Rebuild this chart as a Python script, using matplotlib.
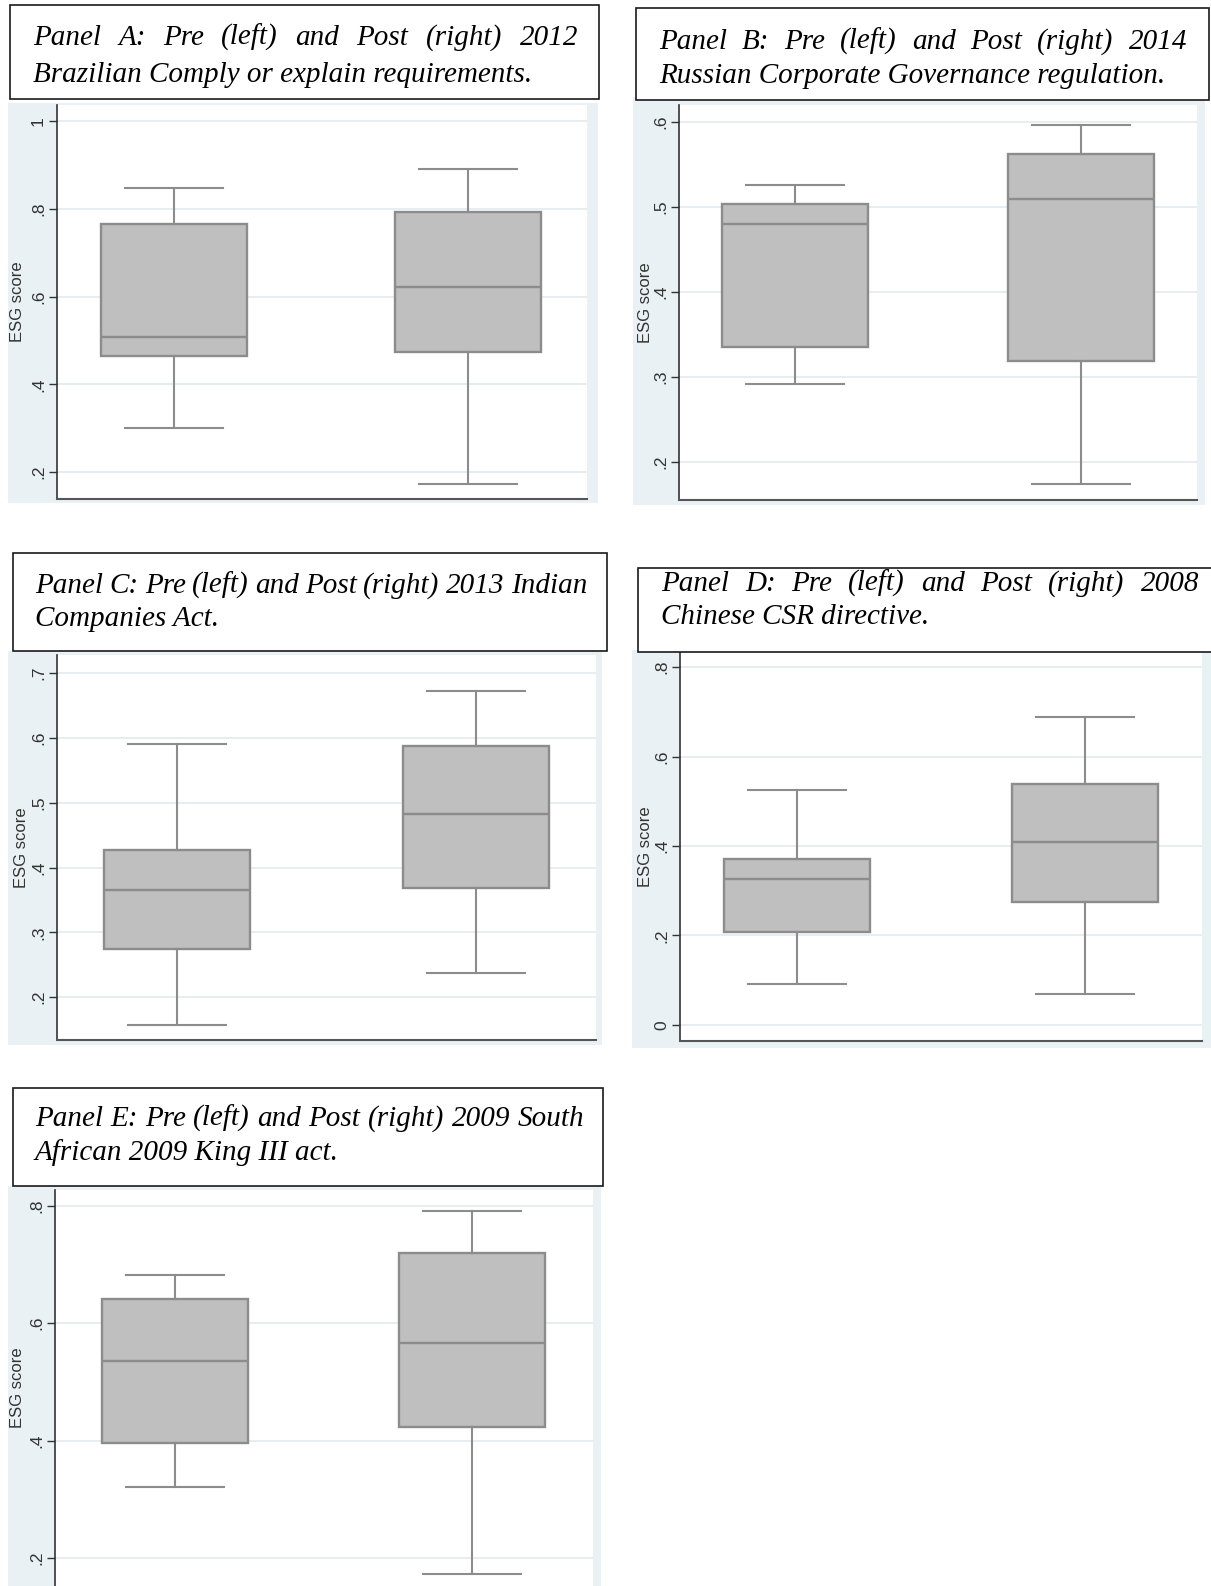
import numpy as np
import matplotlib
matplotlib.use("Agg")
from matplotlib import pyplot as plt
from matplotlib.patches import Rectangle

W, H = 1211, 1586

# box stats: lower whisker, q1, median, q3, upper whisker
a_pre = [0.300, 0.464, 0.507, 0.766, 0.848]
a_post = [0.173, 0.473, 0.622, 0.793, 0.891]
b_pre = [0.291, 0.335, 0.480, 0.503, 0.526]
b_post = [0.174, 0.319, 0.509, 0.562, 0.596]
c_pre = [0.157, 0.275, 0.366, 0.427, 0.591]
c_post = [0.238, 0.369, 0.482, 0.587, 0.672]
d_pre = [0.092, 0.208, 0.326, 0.371, 0.525]
d_post = [0.069, 0.275, 0.409, 0.539, 0.688]
e_pre = [0.320, 0.396, 0.535, 0.641, 0.682]
e_post = [0.172, 0.423, 0.566, 0.720, 0.791]

a_ticks = [0.2, 0.4, 0.6, 0.8, 1.0]
b_ticks = [0.2, 0.3, 0.4, 0.5, 0.6]
c_ticks = [0.2, 0.3, 0.4, 0.5, 0.6, 0.7]
d_ticks = [0.0, 0.2, 0.4, 0.6, 0.8]
e_ticks = [0.2, 0.4, 0.6, 0.8]

a_caption = ["Panel A: Pre (left) and Post (right) 2012",
             "Brazilian Comply or explain requirements."]
b_caption = ["Panel B: Pre (left) and Post (right) 2014",
             "Russian Corporate Governance regulation."]
c_caption = ["Panel C: Pre (left) and Post (right) 2013 Indian",
             "Companies Act."]
d_caption = ["Panel D: Pre (left) and Post (right) 2008",
             "Chinese CSR directive."]
e_caption = ["Panel E: Pre (left) and Post (right) 2009 South",
             "African 2009 King III act."]
ylabel = "ESG score"

BG = '#e9f1f4'
GRID = '#e4edf1'
BOXFILL = '#bfbfbf'
BOXEDGE = '#8c8c8c'
AXCOL = '#333333'

fig = plt.figure(figsize=(W / 100, H / 100), dpi=100)


def fx(x):
    return x / W


def fy(y):
    return 1 - y / H


def add_rect(x0, y0, x1, y1, **kw):
    fig.add_artist(Rectangle((fx(x0), fy(y1)), (x1 - x0) / W, (y1 - y0) / H,
                             transform=fig.transFigure, **kw))


def fmt(v):
    if abs(v - round(v)) < 1e-9:
        return str(int(round(v)))
    return f"{v:.1f}".lstrip('0')


def caption(box, lines, x0, x1, ys):
    add_rect(*box, facecolor='white', edgecolor='#1a1a1a', lw=1.2, zorder=5)
    font = dict(family='Liberation Serif', style='italic', fontsize=21,
                color='black', va='baseline', ha='left', zorder=6)
    renderer = fig.canvas.get_renderer()
    words = lines[0].split()
    texts = [fig.text(0, fy(ys[0]), w, **font) for w in words]
    widths = [t.get_window_extent(renderer).width for t in texts]
    gap = (x1 - x0 - sum(widths)) / (len(words) - 1)
    x = x0
    for t, w in zip(texts, widths):
        t.set_x(fx(x))
        x += w + gap
    fig.text(fx(x0), fy(ys[1]), lines[1], **font)


def panel(bg, plot, centers, pre, post, ticks, ylim, label_x, bottom_line=True):
    add_rect(*bg, facecolor=BG, edgecolor='none', zorder=0)
    left, top, right, bottom = plot
    ax = fig.add_axes([fx(left), fy(bottom), (right - left) / W, (bottom - top) / H])
    ax.set_facecolor('white')
    unit = centers[1] - centers[0]
    ax.set_xlim(1 - (centers[0] - left) / unit, 2 + (right - centers[1]) / unit)
    ax.set_ylim(*ylim)
    stats = [dict(whislo=s[0], q1=s[1], med=s[2], q3=s[3], whishi=s[4], fliers=[])
             for s in (pre, post)]
    ax.bxp(stats, positions=[1, 2], widths=146 / unit, capwidths=98 / unit,
           showfliers=False, patch_artist=True,
           boxprops=dict(facecolor=BOXFILL, edgecolor=BOXEDGE, linewidth=1.7),
           medianprops=dict(color=BOXEDGE, linewidth=1.7),
           whiskerprops=dict(color=BOXEDGE, linewidth=1.5),
           capprops=dict(color=BOXEDGE, linewidth=1.5))
    ax.set_xticks([])
    ax.set_yticks(ticks)
    ax.set_yticklabels([fmt(t) for t in ticks], rotation=90, va='center',
                       family='Liberation Sans', fontsize=12.5, color='#333333')
    ax.tick_params(axis='y', length=6, width=1, color=AXCOL, pad=2)
    ax.yaxis.grid(True, color=GRID, lw=1.3)
    ax.set_axisbelow(True)
    for s in ('top', 'right'):
        ax.spines[s].set_visible(False)
    ax.spines['left'].set_color(AXCOL)
    ax.spines['left'].set_linewidth(1.2)
    ax.spines['bottom'].set_color('#555555')
    ax.spines['bottom'].set_linewidth(1.5)
    ax.spines['bottom'].set_visible(bottom_line)
    fig.text(fx(label_x), fy((top + bottom) / 2), ylabel, rotation=90,
             ha='center', va='center', family='Liberation Sans', fontsize=12,
             color='#333333')
    return ax


panel((8, 103, 598, 503), (57, 105, 587, 499), (174.5, 468), a_pre, a_post,
      a_ticks, (0.139, 1.036), 18)
panel((633, 97, 1205, 505), (679, 105, 1197, 500), (795, 1081), b_pre, b_post,
      b_ticks, (0.155, 0.62), 645)
panel((8, 651, 602, 1045), (57, 655, 596, 1040), (177.5, 476), c_pre, c_post,
      c_ticks, (0.134, 0.728), 22)
panel((632, 650, 1215, 1048), (680, 652, 1202, 1041), (796.5, 1085), d_pre, d_post,
      d_ticks, (-0.036, 0.834), 645)
panel((8, 1186, 601, 1590), (55, 1190, 593, 1586), (175, 472), e_pre, e_post,
      e_ticks, (0.152, 0.827), 18, bottom_line=False)

caption((10, 5, 599, 99), a_caption, 33, 578, (45, 82))
caption((636, 8, 1209, 100), b_caption, 659, 1187, (49, 83))
caption((13, 553, 607, 651), c_caption, 35, 587, (593, 626))
caption((638, 568, 1220, 652), d_caption, 661, 1199, (591, 624))
caption((13, 1088, 603, 1186), e_caption, 35, 584, (1126, 1160))

fig.savefig("out.png", dpi=100)
